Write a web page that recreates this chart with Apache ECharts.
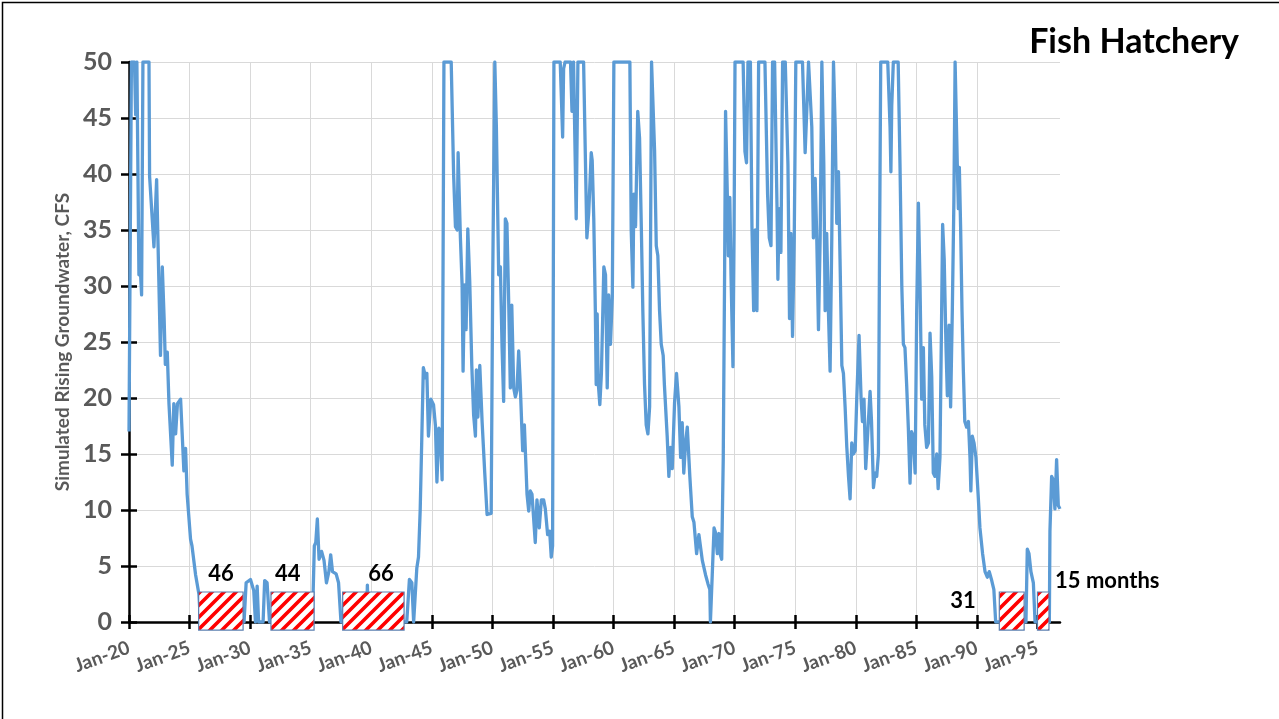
<!DOCTYPE html>
<html><head><meta charset="utf-8">
<script src="https://cdn.jsdelivr.net/npm/echarts@6/dist/echarts.min.js"></script>
<style>html,body{margin:0;padding:0;background:#fff}#c{width:1279px;height:719px}</style>
</head><body><div id="c"></div>
<script>
// ---- data (decimal year, simulated rising groundwater CFS, clipped at 50) ----
const years = [
1920.00,1920.20,1920.45,1920.55,1920.65,1920.82,1920.90,1921.04,1921.15,1921.65,
1921.70,1922.06,1922.28,1922.60,1922.75,1922.90,1923.00,1923.16,1923.30,1923.57,
1923.70,1923.85,1924.00,1924.26,1924.53,1924.67,1924.80,1925.08,1925.20,1925.50,
1925.77,1925.90,1929.50,1929.67,1930.03,1930.30,1930.44,1930.58,1930.70,1931.07,
1931.20,1931.40,1931.60,1935.14,1935.30,1935.42,1935.55,1935.69,1935.90,1936.10,
1936.30,1936.50,1936.65,1936.80,1937.10,1937.30,1937.50,1939.60,1939.68,1939.76,
1942.93,1943.15,1943.35,1943.50,1943.60,1943.76,1943.90,1944.04,1944.17,1944.30,
1944.50,1944.59,1944.72,1944.92,1945.14,1945.30,1945.42,1945.58,1945.70,1945.85,
1946.00,1946.60,1946.80,1946.95,1947.10,1947.17,1947.36,1947.50,1947.58,1947.70,
1947.83,1947.97,1948.13,1948.30,1948.45,1948.60,1948.68,1948.80,1948.96,1949.15,
1949.37,1949.56,1949.70,1949.90,1950.03,1950.20,1950.33,1950.52,1950.66,1950.80,
1950.93,1951.07,1951.20,1951.35,1951.48,1951.60,1951.76,1951.90,1952.03,1952.17,
1952.30,1952.50,1952.64,1952.86,1953.00,1953.13,1953.27,1953.54,1953.68,1953.87,
1954.04,1954.23,1954.37,1954.56,1954.73,1954.86,1954.97,1955.08,1955.60,1955.80,
1955.88,1956.00,1956.45,1956.57,1956.70,1956.85,1956.92,1957.06,1957.53,1957.80,
1957.95,1958.16,1958.24,1958.37,1958.50,1958.57,1958.65,1958.73,1958.87,1959.00,
1959.20,1959.34,1959.48,1959.60,1959.75,1959.90,1960.03,1961.35,1961.46,1961.60,
1961.68,1961.82,1962.00,1962.15,1962.30,1962.42,1962.56,1962.70,1962.84,1962.98,
1963.06,1963.14,1963.28,1963.39,1963.53,1963.66,1963.80,1963.94,1964.10,1964.20,
1964.43,1964.57,1964.70,1964.85,1965.04,1965.20,1965.40,1965.54,1965.67,1965.80,
1965.95,1966.09,1966.30,1966.50,1966.64,1966.86,1967.05,1967.33,1967.60,1967.80,
1967.95,1968.00,1968.15,1968.30,1968.42,1968.57,1968.70,1968.82,1968.93,1969.06,
1969.17,1969.25,1969.40,1969.48,1969.60,1969.70,1969.86,1969.95,1970.03,1970.70,
1970.85,1970.98,1971.10,1971.30,1971.43,1971.57,1971.70,1971.84,1971.98,1972.50,
1972.72,1972.86,1973.00,1973.13,1973.30,1973.50,1973.57,1973.68,1973.82,1973.96,
1974.18,1974.40,1974.53,1974.64,1974.78,1974.92,1975.05,1975.60,1975.82,1975.96,
1976.10,1976.25,1976.37,1976.50,1976.65,1976.78,1976.92,1977.06,1977.20,1977.36,
1977.47,1977.60,1977.74,1977.88,1978.02,1978.16,1978.30,1978.43,1978.57,1978.70,
1978.85,1978.98,1979.12,1979.26,1979.40,1979.53,1979.67,1979.80,1979.95,1980.08,
1980.27,1980.44,1980.55,1980.68,1980.82,1980.95,1981.18,1981.30,1981.46,1981.60,
1981.73,1981.87,1981.95,1982.06,1982.64,1982.83,1982.90,1982.97,1983.10,1983.50,
1983.65,1983.80,1983.93,1984.06,1984.20,1984.34,1984.48,1984.60,1984.75,1984.90,
1985.03,1985.17,1985.30,1985.44,1985.58,1985.70,1985.85,1986.00,1986.13,1986.27,
1986.40,1986.54,1986.68,1986.80,1986.95,1987.09,1987.17,1987.30,1987.45,1987.56,
1987.70,1987.83,1987.97,1988.10,1988.20,1988.38,1988.47,1988.55,1988.66,1988.77,
1988.88,1989.00,1989.15,1989.30,1989.43,1989.50,1989.62,1989.76,1989.92,1990.10,
1990.25,1990.47,1990.67,1990.86,1991.02,1991.20,1991.40,1991.55,1994.05,1994.16,
1994.30,1994.46,1994.66,1994.80,1995.98,1996.03,1996.17,1996.30,1996.44,1996.58,
1996.72,1996.86
];
const flow = [
17.0,50,50,45.3,50,31.0,32.3,29.2,50,50,
39.8,33.5,39.5,23.8,31.7,27.1,23.0,24.1,19.5,14.0,
19.5,16.8,19.5,19.9,13.5,15.5,11.4,7.4,6.8,4.2,
2.5,0,0,3.5,3.8,2.8,0,3.2,0,0,
3.7,3.5,0,0,6.8,7.1,9.2,5.6,6.3,5.5,
3.5,4.5,6.0,4.5,4.3,3.5,0,0,3.3,0,
0,3.8,3.5,0,0,4.8,5.8,10.0,16.3,22.7,
21.8,22.2,16.6,19.9,19.4,17.5,12.5,17.3,17.0,12.7,
50,50,39.9,35.3,35.0,41.9,34.3,30.1,22.4,30.1,
26.1,35.1,30.4,22.9,18.5,16.6,22.5,18.3,22.9,17.9,
13.3,9.6,9.7,9.7,31,50,44.2,31.0,31.7,24.5,
19.7,36.0,35.6,28.4,20.9,28.3,20.9,20.1,20.7,24.2,
21.2,15.3,17.6,11.4,9.9,11.7,11.4,7.1,10.9,8.4,
10.9,10.9,10.1,7.8,8.1,5.8,6.8,50,50,43.3,
49.4,50,50,45.6,50,50,36.0,50,50,34.3,
36.5,41.9,41.2,36.0,27.8,21.2,27.5,21.5,19.4,22.2,
31.7,31.0,20.9,29.2,24.8,29.1,50,50,35,29.9,
38.2,35.3,45.6,43.2,35,27.8,21.2,17.6,16.8,19.2,
34.3,50,50,42.1,33.6,32.7,27.8,24.8,23.8,21.2,
16.6,13.0,15.6,13.7,19.6,22.2,19.2,14.7,17.8,13.3,
16.0,17.4,13.0,9.4,8.9,6.1,7.8,5.5,4.2,3.4,
2.9,0,4.2,8.4,8.0,6.1,7.9,6.0,5.6,14.7,
31,45.6,37.9,32.7,37.9,31,22.8,34.3,50,50,
42,41,50,50,35.3,27.8,35,27.8,50,50,
38.2,34.3,33.6,50,50,36.9,30.6,36.9,33,50,
50,40.9,27.1,34.7,25.5,34.3,50,50,41.9,45.8,
50,50,44.2,34.3,39.6,34.3,26.1,34.3,50,40.9,
27.8,34.7,27.8,22.4,34.3,50,44.2,35.6,40.2,32.4,
22.9,22.2,19.2,15.6,13.0,11.0,16.0,15.0,15.3,19.9,
25.6,19.9,17.9,19.9,13.7,13.7,20.6,17.9,12.0,13.3,
13.0,15.0,31,50,50,44.2,40.2,46.1,50,50,
40.9,30,24.8,24.5,21.2,17.3,12.4,17.0,16.6,13.3,
27.8,37.4,30.4,19.9,24.5,17.6,15.6,16.0,25.8,21.9,
13.3,13.0,15.0,11.9,14.7,27.8,35.5,32.4,24.5,20.2,
26.5,19.2,27.8,37.6,50,40.9,36.9,40.6,35,27.8,
22.5,17.9,17.4,17.9,14.7,11.7,16.6,16.0,14.7,11.4,
8.4,6.1,4.5,4.0,4.5,3.8,2.9,0,0,6.5,
6.1,4.5,3.5,0,0,8.1,13.0,12.7,10.1,14.5,
10.4,10.1
];
const xTickYears = [1920,1925,1930,1935,1940,1945,1950,1955,1960,1965,1970,1975,1980,1985,1990,1995];
const droughtStart = [1925.75, 1931.72, 1937.64, 1991.85, 1995.00];
const droughtEnd   = [1929.42, 1935.28, 1942.71, 1993.90, 1995.95];
const droughtLabels = ['46', '44', '66', '31', '15 months'];

// ---- layout (not data) ----
const BOX_TOP = 2.68, BOX_BOTTOM = -0.72;
const labelLayout = [
  {x: 1927.6, y: 4.3, align: 'center'},
  {x: 1933.1, y: 4.3, align: 'center'},
  {x: 1940.8, y: 4.3, align: 'center'},
  {x: 1988.85, y: 1.9, align: 'center'},
  {x: 1996.45, y: 3.7, align: 'left'}
];
const FONT = 'Lato, "Open Sans", sans-serif';
const GREY = '#595959';

function makeStripes() {
  const s = 12, c = document.createElement('canvas');
  c.width = s; c.height = s;
  const g = c.getContext('2d');
  g.fillStyle = '#ffffff'; g.fillRect(0, 0, s, s);
  g.strokeStyle = '#ff0000'; g.lineWidth = 3.6;
  g.beginPath();
  for (const o of [-s, 0, s]) { g.moveTo(o - 2, s + 2); g.lineTo(o + s + 2, -2); }
  g.stroke();
  return c;
}
const stripePattern = {image: makeStripes(), repeat: 'repeat'};

const lineData = years.map((y, i) => [y, flow[i]]);
const boxData = droughtStart.map((s, i) => [s, droughtEnd[i], 0]);

const chart = echarts.init(document.getElementById('c'), null, {renderer: 'canvas'});
const xBase = {
  type: 'value', min: 1920, max: 1996.86, interval: 5, gridIndex: 0, position: 'bottom'
};
const yBase = {
  type: 'value', min: 0, max: 50, interval: 5, gridIndex: 0, position: 'left'
};
chart.setOption({
  animation: false,
  backgroundColor: '#ffffff',
  grid: {left: 129, right: 219, top: 62, bottom: 97, containLabel: false},
  xAxis: [
    Object.assign({}, xBase, {
      axisLine: {show: true, lineStyle: {color: '#000', width: 2.5}},
      axisTick: {show: true, inside: false, length: 7, customValues: xTickYears, lineStyle: {color: '#000', width: 2.5}},
      axisLabel: {show: true, customValues: xTickYears, rotate: 20, margin: 25,
        formatter: v => 'Jan-' + String(Math.round(v)).slice(2),
        color: GREY, fontFamily: FONT, fontWeight: 'bold', fontSize: 19},
      splitLine: {show: true, showMinLine: false, showMaxLine: false, lineStyle: {color: '#d9d9d9', width: 1}}
    }),
    Object.assign({}, xBase, {
      axisLine: {show: false},
      axisTick: {show: true, inside: true, length: 7, customValues: xTickYears, lineStyle: {color: '#000', width: 2.5}},
      axisLabel: {show: false},
      splitLine: {show: false}
    })
  ],
  yAxis: [
    Object.assign({}, yBase, {
      name: 'Simulated Rising Groundwater, CFS',
      nameLocation: 'middle', nameGap: 56, nameRotate: 90,
      nameTextStyle: {color: GREY, fontFamily: FONT, fontWeight: 'bold', fontSize: 19},
      axisLine: {show: true, lineStyle: {color: '#000', width: 2.5}},
      axisTick: {show: true, inside: false, length: 8, lineStyle: {color: '#000', width: 2.5}},
      axisLabel: {show: true, margin: 17, color: GREY, fontFamily: FONT, fontWeight: 'bold', fontSize: 25},
      splitLine: {show: true, lineStyle: {color: '#d9d9d9', width: 1}}
    }),
    Object.assign({}, yBase, {
      axisLine: {show: false},
      axisTick: {show: true, inside: true, length: 8, lineStyle: {color: '#000', width: 2.5}},
      axisLabel: {show: false},
      splitLine: {show: false}
    })
  ],
  series: [
    {
      type: 'line', xAxisIndex: 0, yAxisIndex: 0, data: lineData,
      showSymbol: false, symbol: 'none', smooth: false, z: 3,
      lineStyle: {color: '#5b9bd5', width: 3.3, join: 'round'}
    },
    {
      type: 'custom', xAxisIndex: 0, yAxisIndex: 0, z: 6, clip: false,
      data: boxData, encode: {x: [0, 1], y: 2},
      renderItem: function (params, api) {
        const i = params.dataIndex;
        const a = api.coord([api.value(0), BOX_TOP]);
        const b = api.coord([api.value(1), BOX_BOTTOM]);
        const L = labelLayout[i];
        const t = api.coord([L.x, L.y]);
        return {
          type: 'group',
          children: [
            {type: 'rect', shape: {x: a[0], y: a[1], width: b[0] - a[0], height: b[1] - a[1]},
             style: {fill: stripePattern, stroke: '#5b7fb0', lineWidth: 1.2}},
            {type: 'text', x: t[0], y: t[1],
             style: {text: droughtLabels[i], fill: '#000', font: 'bold 22px ' + FONT,
                     align: L.align, verticalAlign: 'middle'}}
          ]
        };
      }
    }
  ],
  graphic: [
    {type: 'rect', left: 0, top: 0, z: 100, silent: true,
     shape: {x: 0.75, y: 0.75, width: 1277.5, height: 717.5},
     style: {fill: 'none', stroke: '#000', lineWidth: 1.5}},
    {type: 'text', x: 1239, y: 42, z: 100,
     style: {text: 'Fish Hatchery', fill: '#000', font: 'bold 34px ' + FONT, align: 'right', verticalAlign: 'middle'}}
  ]
});
</script>
</body></html>
